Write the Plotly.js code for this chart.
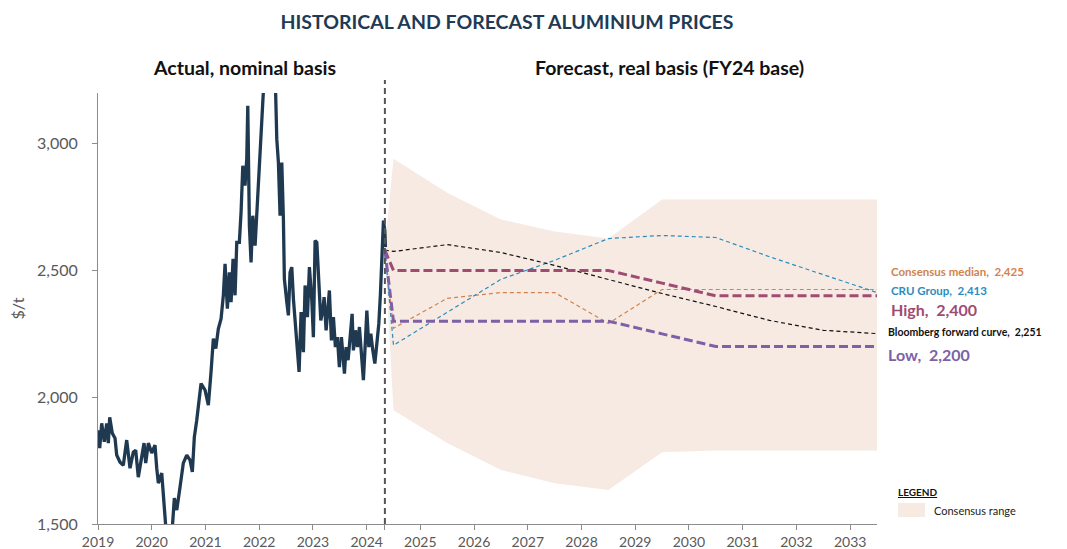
<!DOCTYPE html>
<html>
<head>
<meta charset="utf-8">
<script src="https://cdn.plot.ly/plotly-3.0.1.min.js"></script>
<style>html,body{margin:0;padding:0;background:#fff;}#chart{width:1067px;height:549px;}</style>
</head>
<body>
<div id="chart"></div>
<script>
// ---- Historical (actual, nominal) LME aluminium price, $/t ----
const histYears = [2019.019,2019.032,2019.069,2019.117,2019.162,2019.192,2019.218,2019.266,2019.317,2019.348,
2019.410,2019.471,2019.534,2019.596,2019.657,2019.702,2019.750,2019.814,2019.857,2019.888,
2019.937,2020.000,2020.061,2020.093,2020.123,2020.186,2020.216,2020.248,2020.279,2020.322,
2020.372,2020.421,2020.466,2020.527,2020.588,2020.652,2020.713,2020.756,2020.793,2020.838,
2020.868,2020.918,2020.993,2021.054,2021.104,2021.147,2021.192,2021.240,2021.291,2021.333,
2021.365,2021.408,2021.445,2021.477,2021.514,2021.551,2021.583,2021.631,2021.663,2021.695,
2021.737,2021.769,2021.788,2021.818,2021.849,2021.881,2021.924,2021.955,2021.985,2022.022,
2022.048,2022.078,2022.110,2022.147,2022.203,2022.240,2022.277,2022.328,2022.358,2022.389,
2022.421,2022.451,2022.469,2022.514,2022.544,2022.575,2022.607,2022.637,2022.669,2022.700,
2022.743,2022.780,2022.823,2022.855,2022.898,2022.935,2022.980,2023.009,2023.041,2023.073,
2023.110,2023.147,2023.184,2023.209,2023.246,2023.283,2023.307,2023.345,2023.382,2023.419,
2023.456,2023.493,2023.531,2023.557,2023.587,2023.618,2023.655,2023.693,2023.730,2023.754,
2023.791,2023.829,2023.866,2023.903,2023.940,2023.978,2024.004,2024.041,2024.078,2024.115,
2024.153,2024.190,2024.227,2024.257,2024.289,2024.313,2024.339,2024.350];
const histPrices = [1870,1799,1897,1824,1897,1819,1921,1858,1838,1772,
1744,1732,1831,1720,1783,1791,1685,1760,1819,1740,
1819,1780,1811,1720,1661,1701,1606,1504,1440,1420,
1450,1602,1555,1646,1740,1772,1752,1705,1843,1909,
1955,2054,2028,1969,2100,2231,2192,2270,2310,2402,
2526,2349,2493,2375,2546,2402,2611,2611,2730,2913,
2835,2940,3150,2677,2532,2716,2598,2703,2808,2926,
3018,3123,3202,3400,3700,3500,3450,3018,2926,2716,
2926,2703,2467,2375,2323,2493,2513,2389,2310,2231,
2100,2336,2178,2441,2316,2513,2382,2237,2618,2611,
2434,2303,2342,2395,2264,2382,2421,2224,2316,2198,
2237,2119,2237,2172,2093,2198,2146,2237,2329,2185,
2264,2198,2277,2172,2067,2224,2342,2198,2251,2185,
2133,2211,2290,2408,2605,2697,2657,2592];

// ---- Forecast (real basis, FY24 base), $/t ----
const fcYears = [2024.34,2024.5,2025.5,2026.5,2027.5,2028.5,2029.5,2030.5,2031.5,2032.5,2033.5];
const bloomberg = [2580,2575,2602,2571,2520,2465,2409,2358,2303,2264,2251];
const cruGroup  = [2580,2205,2335,2465,2540,2626,2638,2630,2554,2484,2413];
const consensusMedian = [2580,2272,2390,2413,2413,2291,2425,2425,2425,2425,2425];
const highCase = [2580,2500,2500,2500,2500,2500,2450,2400,2400,2400,2400];
const lowCase  = [2580,2300,2300,2300,2300,2300,2250,2200,2200,2200,2200];
const rangeUpper = [2590,2941,2807,2701,2654,2626,2780,2780,2780,2780,2780];
const rangeLower = [2570,1949,1819,1713,1661,1634,1783,1790,1790,1790,1790];

// ---- Axis ticks ----
const splitYear = 2024.34;
const yearTicks = [2019,2020,2021,2022,2023,2024,2025,2026,2027,2028,2029,2030,2031,2032,2033];
const yTicks = [1500,2000,2500,3000];
const yTickText = ['1,500','2,000','2,500','3,000'];

const FONT = 'Lato, "Open Sans", "Liberation Sans", sans-serif';

const traces = [
  { // consensus range band
    x: fcYears.concat(fcYears.slice().reverse()),
    y: rangeUpper.concat(rangeLower.slice().reverse()),
    type: 'scatter', mode: 'lines', fill: 'toself',
    fillcolor: 'rgb(246,234,227)', line: {width: 0, color: 'rgba(0,0,0,0)'},
    hoverinfo: 'skip', showlegend: false
  },
  {
    x: histYears, y: histPrices, type: 'scatter', mode: 'lines',
    line: {color: '#1f3a50', width: 3.3}, showlegend: false
  },
  {
    x: fcYears, y: consensusMedian, type: 'scatter', mode: 'lines',
    line: {color: '#d2834c', width: 1.2, dash: '4px,3px'}, showlegend: false
  },
  {
    x: fcYears, y: cruGroup, type: 'scatter', mode: 'lines',
    line: {color: '#2b8cbf', width: 1.2, dash: '4px,3px'}, showlegend: false
  },
  {
    x: fcYears, y: bloomberg, type: 'scatter', mode: 'lines',
    line: {color: '#111111', width: 1.2, dash: '4px,3px'}, showlegend: false
  },
  {
    x: fcYears, y: highCase, type: 'scatter', mode: 'lines',
    line: {color: '#a04c72', width: 3, dash: '9px,4px'}, showlegend: false
  },
  {
    x: fcYears, y: lowCase, type: 'scatter', mode: 'lines',
    line: {color: '#7d60a6', width: 3, dash: '9px,4px'}, showlegend: false
  }
];

const W = 779, H = 431, L = 98, T = 93;
const px2paperX = p => (p - L) / W;
const px2paperY = p => (T + H - p) / H;

const layout = {
  width: 1067, height: 549,
  margin: {l: L, r: 1067 - L - W, t: T, b: 549 - T - H},
  paper_bgcolor: '#ffffff', plot_bgcolor: '#ffffff',
  font: {family: FONT, color: '#595959'},
  showlegend: false,
  title: {
    text: '<b>HISTORICAL AND FORECAST ALUMINIUM PRICES</b>',
    font: {family: FONT, size: 19.5, color: '#1f3a55'},
    x: 507/1067, xanchor: 'center', xref: 'container',
    y: 1 - 22/549, yanchor: 'middle', yref: 'container'
  },
  xaxis: {
    range: [2019, 2033.5], type: 'linear',
    tickvals: yearTicks.concat([splitYear]),
    ticktext: yearTicks.map(String).concat(['']),
    ticks: 'outside', ticklen: 5, tickcolor: '#8c8c8c', tickwidth: 1,
    showline: true, linecolor: '#8c8c8c', linewidth: 1,
    showgrid: false, zeroline: false,
    tickfont: {family: FONT, size: 14, color: '#595959'}
  },
  yaxis: {
    range: [1500, 3200],
    tickvals: yTicks, ticktext: yTickText,
    ticks: 'outside', ticklen: 5, tickcolor: '#8c8c8c',
    ticklabelstandoff: 11,
    showline: true, linecolor: '#8c8c8c', linewidth: 1,
    showgrid: false, zeroline: false,
    tickfont: {family: FONT, size: 16, color: '#595959'},
    title: {text: '$/t', font: {family: FONT, size: 16, color: '#595959'}, standoff: 8}
  },
  shapes: [
    {type: 'line', xref: 'x', yref: 'paper', x0: splitYear, x1: splitYear, y0: 0, y1: px2paperY(80),
     line: {color: '#555555', width: 2, dash: '6px,4px'}},
    {type: 'rect', xref: 'paper', yref: 'paper',
     x0: px2paperX(898), x1: px2paperX(925), y0: px2paperY(517), y1: px2paperY(503),
     fillcolor: 'rgb(246,234,227)', line: {width: 0}}
  ],
  annotations: [
    {text: '<b>Actual, nominal basis</b>', xref: 'paper', yref: 'paper',
     x: px2paperX(244), y: px2paperY(68), xanchor: 'center', yanchor: 'middle', showarrow: false,
     font: {family: FONT, size: 19.5, color: '#111111'}},
    {text: '<b>Forecast, real basis (FY24 base)</b>', xref: 'paper', yref: 'paper',
     x: px2paperX(669), y: px2paperY(68), xanchor: 'center', yanchor: 'middle', showarrow: false,
     font: {family: FONT, size: 19.5, color: '#111111'}},
    {text: '<b>Consensus median,  2,425</b>', xref: 'paper', yref: 'y', x: px2paperX(889), y: 2496,
     xanchor: 'left', yanchor: 'middle', showarrow: false,
     font: {family: FONT, size: 11.5, color: '#d2834c'}},
    {text: '<b>CRU Group,  2,413</b>', xref: 'paper', yref: 'y', x: px2paperX(889), y: 2421,
     xanchor: 'left', yanchor: 'middle', showarrow: false,
     font: {family: FONT, size: 11.5, color: '#2b8cbf'}},
    {text: '<b>High,  2,400</b>', xref: 'paper', yref: 'y', x: px2paperX(889), y: 2345,
     xanchor: 'left', yanchor: 'middle', showarrow: false,
     font: {family: FONT, size: 16, color: '#a04c72'}},
    {text: '<b>Bloomberg forward curve,  2,251</b>', xref: 'paper', yref: 'y', x: px2paperX(886), y: 2257,
     xanchor: 'left', yanchor: 'middle', showarrow: false,
     font: {family: FONT, size: 10.5, color: '#111111'}},
    {text: '<b>Low,  2,200</b>', xref: 'paper', yref: 'y', x: px2paperX(886), y: 2169,
     xanchor: 'left', yanchor: 'middle', showarrow: false,
     font: {family: FONT, size: 16, color: '#7d60a6'}},
    {text: '<b><u>LEGEND</u></b>', xref: 'paper', yref: 'paper', x: px2paperX(896), y: px2paperY(492),
     xanchor: 'left', yanchor: 'middle', showarrow: false,
     font: {family: FONT, size: 10, color: '#111111'}},
    {text: 'Consensus range', xref: 'paper', yref: 'paper', x: px2paperX(932), y: px2paperY(510),
     xanchor: 'left', yanchor: 'middle', showarrow: false,
     font: {family: FONT, size: 11, color: '#222222'}}
  ]
};

Plotly.newPlot('chart', traces, layout, {displayModeBar: false, staticPlot: true});
</script>
</body>
</html>
